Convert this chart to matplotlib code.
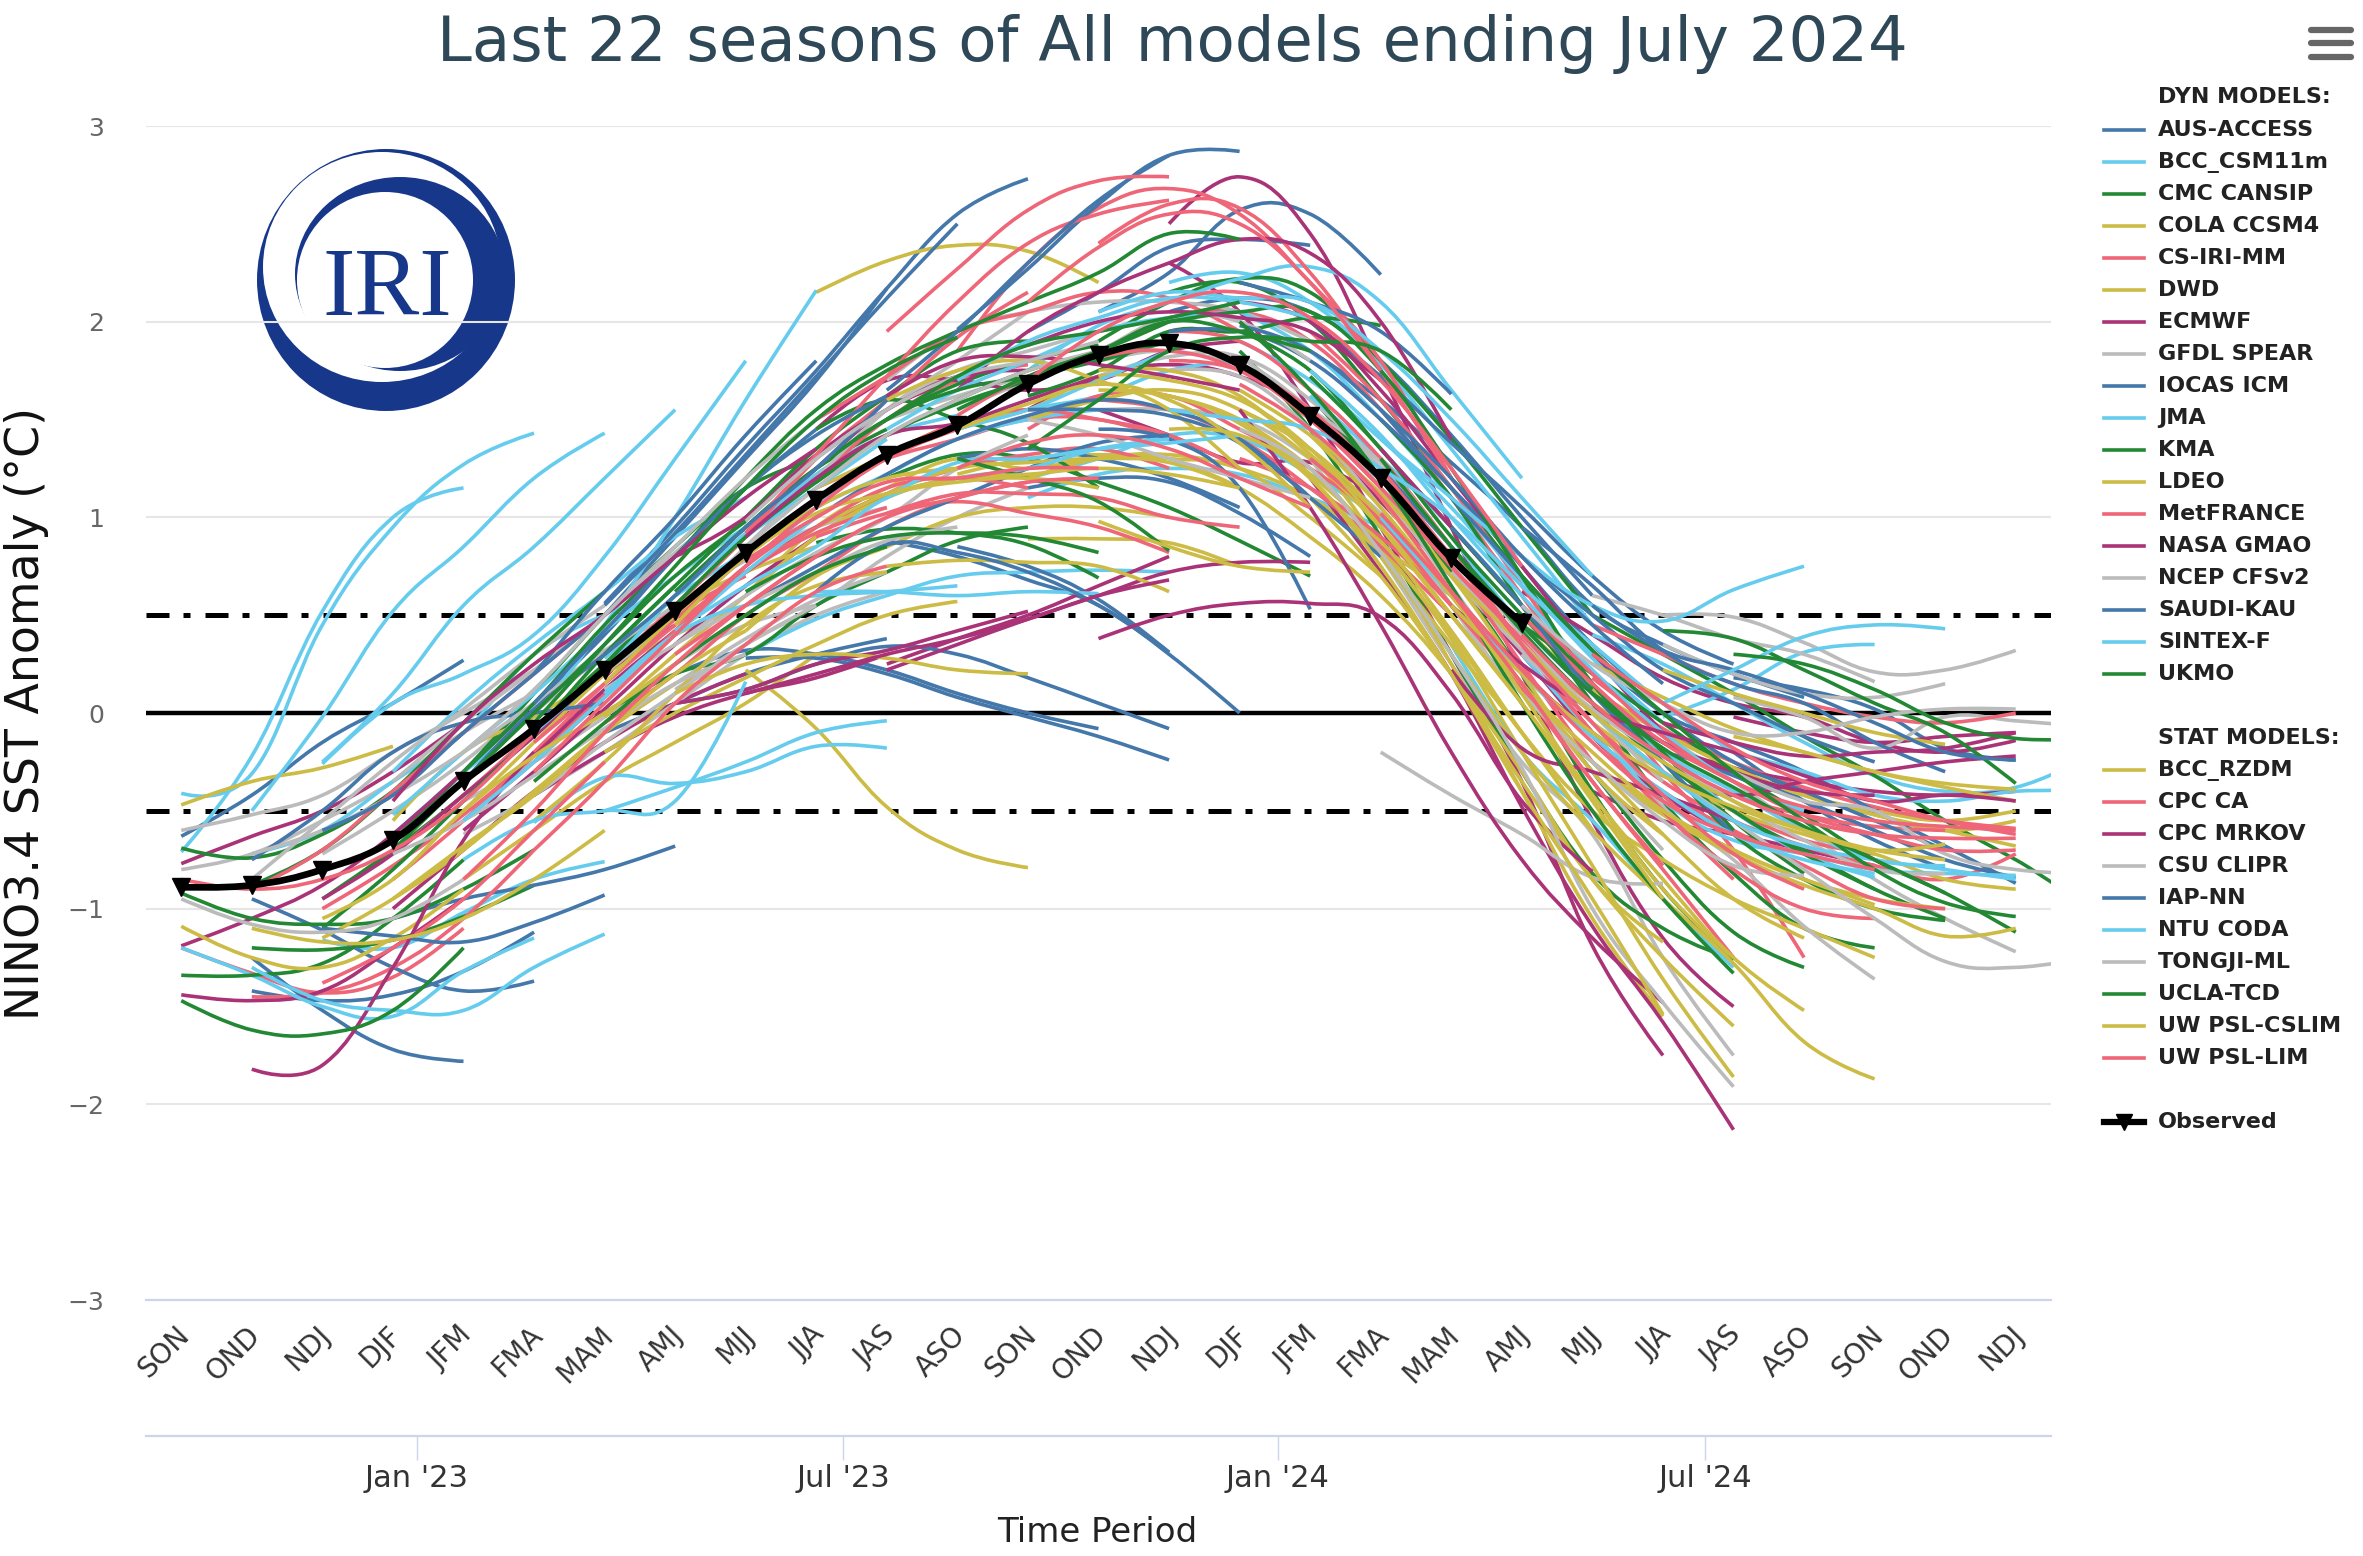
import numpy as np
import matplotlib; matplotlib.use("Agg")
import matplotlib.pyplot as plt
from matplotlib.patches import Ellipse, PathPatch
from matplotlib.path import Path
from matplotlib.transforms import ScaledTranslation

SEASONS=["SON","OND","NDJ","DJF","JFM","FMA","MAM","AMJ","MJJ","JJA","JAS","ASO","SON","OND",
         "NDJ","DJF","JFM","FMA","MAM","AMJ","MJJ","JJA","JAS","ASO","SON","OND","NDJ"]
MONTH_POS=[3.34,9.38,15.54,21.6]
MONTH_LBL=["Jan '23","Jul '23","Jan '24","Jul '24"]
OBS=[-.89,-.88,-.80,-.65,-.35,-.08,.22,.52,.82,1.09,1.32,1.47,1.68,1.83,1.89,1.78,1.52,1.20,.79,.46]

# (first season index, forecast values), one list per colour
BLUE=[(0,[-.63,-.42,-.15,.05,.27]),(1,[-.95,-1.11,-1.3,-1.42,-1.37]),(1,[-1.25,-1.52,-1.72,-1.78]),
 (2,[-1.1,-1.14,-1.17,-1.07,-.93]),(1,[-1.42,-1.47,-1.44,-1.32,-1.12]),(3,[-1.05,-.95,-.88,-.8,-.68]),
 (1,[-.75,-.5,-.2,-.05,.0,.05]),(4,[-.35,.02,.3,.6,.95,1.25,1.6]),(6,[.56,.95,1.36,1.75,2.17,2.55,2.73]),
 (6,[.5,.9,1.3,1.7,2.17]),(6,[.55,.92,1.32,1.72,2.12,2.5]),(5,[.2,.62,1.0,1.42,1.8]),
 (7,[.2,.32,.3,.22,.1,.0,-.08]),(8,[.28,.28,.2,.08,-.02,-.12,-.24]),(7,[.05,.12,.25,.34,.3,.18,.05,-.08]),
 (9,[.62,.86,.82,.72,.55,.31]),(10,[.88,.8,.68,.55,.3,0.]),(11,[.85,.75,.58,.31]),
 (11,[1.96,2.27,2.6,2.85,2.87]),(10,[1.65,1.95,2.3,2.62,2.85]),(13,[2.05,2.25,2.57,2.55,2.24]),
 (12,[1.95,2.15,2.38,2.42,2.39]),(15,[2.2,2.1,1.95,1.63]),(13,[1.45,1.4,1.15,.53]),
 (12,[1.15,1.2,1.18,1.02,.8]),(11,[1.3,1.35,1.3,1.2,1.05]),(14,[1.95,1.95,1.8,1.5,1.15,.75]),
 (15,[1.98,1.85,1.55,1.2,.8,.45,.15]),(16,[1.85,1.6,1.28,.95,.55,.35,.2,.08]),
 (17,[1.55,1.15,.8,.5,.22,.05,-.12,-.25]),(18,[1.1,.7,.32,.0,-.25,-.4,-.55,-.7]),(18,[.95,.55,.1,-.25,-.62]),
 (19,[.75,.35,.05,-.2,-.45,-.65,-.8]),(20,[.3,.0,-.15,-.3,-.5,-.68,-.87]),(19,[.95,.65,.32,.15,.05,-.15,-.3]),
 (20,[.55,.32,.22,.1,-.05,-.2,-.24]),(22,[.18,.12,.02,-.18,-.24]),(3,[-.62,-.3,.05,.4,.8,1.15,1.45]),
 (8,[.55,.75,.95,1.1,1.25,1.38,1.42]),(2,[-.6,-.42,-.1,.2,.5]),(6,[-.1,.05,.2,.3,.38]),(21,[-.2,-.3,-.45,-.6,-.75,-.84]),
 (9,[1.0,1.22,1.4,1.52,1.6,1.55,1.4,1.1])]
BLUE+=[(5,[.05,.42,.8,1.15,1.42,1.62]),(14,[2.05,2.12,2.05,1.8,1.42,1.0,.6]),(16,[2.0,1.72,1.38,1.05,.7,.42,.25]),
 (17,[1.25,.85,.45,.1,-.15,-.32,-.45,-.6]),(12,[1.55,1.55,1.52,1.38,1.1,.8])]

CYAN=[(0,[-.71,-.22,.52,1.0,1.15]),(0,[-.41,-.31,.45,.95,1.27,1.43]),(1,[-.5,-.02,.52,.85,1.2,1.43]),
 (2,[-.25,.1,.55,.85,1.2,1.55]),(2,[-.26,.05,.2,.4,.8,1.3,1.8]),(4,[-.3,.0,.45,1.0,1.6,2.16]),
 (0,[-1.2,-1.34,-1.5,-1.55,-1.32,-1.15]),(1,[-1.3,-1.47,-1.52,-1.52,-1.3,-1.13]),(2,[-1.16,-1.2,-1.02,-.85,-.76]),
 (5,[-.56,-.33,-.36,-.3,-.17,-.18]),(4,[-.75,-.55,-.5,-.45,.16]),(6,[-.5,-.38,-.25,-.1,-.04]),
 (1,[-.72,-.6,-.35,-.1,.3,.5]),(3,[-.52,-.2,.1,.42,.7,.95]),(5,[-.1,.22,.6,.9,1.15,1.4]),
 (6,[.1,.4,.55,.6,.62,.65]),(8,[.3,.48,.6,.7,.72,.73,.72]),(9,[.62,.62,.6,.62,.61]),
 (8,[.75,1.05,1.32,1.45,1.55,1.7,1.85]),(10,[1.1,1.28,1.3,1.35,1.38,1.42]),(11,[1.45,1.55,1.62,1.75,1.8]),
 (12,[1.75,1.98,2.1,2.22,2.28,2.1,1.65,1.2]),(13,[2.05,2.15,2.12,2.1,1.85,1.5,1.1,.7]),
 (14,[1.55,1.5,1.45,1.25,1.0,.65,.3]),(15,[1.9,1.7,1.4,1.05,.65,.35,.05,-.2]),(16,[1.62,1.3,.95,.55,.1,-.2,-.45]),
 (17,[1.4,1.1,.8,.55,.47,.63,.75]),(21,[.05,.22,.39,.45,.43]),(21,[-.02,.12,.31,.35]),
 (18,[.9,.45,.1,-.2,-.4,-.6,-.75,-.78]),(19,[.3,-.1,-.45,-.65,-.72,-.8,-.82,-.83]),(20,[.0,-.3,-.55,-.68,-.75,-.8,-.85]),
 (20,[.4,.25,.05,-.15,-.32,-.4,-.38,-.23]),(22,[-.2,-.3,-.42,-.45,-.4,-.4]),(18,[.35,-.2,-.55,-.95,-1.3]),
 (7,[.42,.65,.85,1.1,1.2,1.25,1.35,1.4]),(12,[1.2,1.3,1.42,1.4,1.22,1.0]),(3,[-.3,.05,.35,.62,.9,1.1]),(19,[.55,.15,-.2,-.5,-.72,-.84])]
CYAN+=[(4,[-.55,-.25,.08,.4,.72,1.0]),(6,[.28,.6,.92,1.22,1.42,1.52]),(7,[.6,.82,1.05,1.22,1.4,1.5,1.55]),
 (10,[1.45,1.65,1.8,1.95,2.02,2.05]),(11,[1.7,1.9,2.02,2.12,2.1,2.02]),(14,[2.2,2.25,2.1,1.78,1.35,.9,.45]),
 (15,[2.05,1.85,1.5,1.1,.68,.28,-.05]),(16,[1.75,1.42,1.0,.6,.22,-.1,-.35,-.5]),(17,[1.0,.6,.2,-.12,-.4,-.62,-.75,-.82]),
 (12,[1.1,1.22,1.25,1.22,1.1,.95])]

GREEN=[(0,[-.69,-.74,-.62,-.4,-.1]),(0,[-.92,-1.05,-1.08,-1.05,-.9,-.7]),(0,[-1.34,-1.34,-1.28,-1.05,-.75]),
 (0,[-1.47,-1.62,-1.64,-1.52,-1.2]),(1,[-1.2,-1.21,-1.16,-1.04,-.88]),(2,[-1.1,-.8,-.45,-.1,.3,.65]),
 (4,[-.3,.05,.45,.8,1.2,1.55,1.78,1.95]),(5,[-.05,.35,.75,1.15,1.5,1.75,1.92]),(3,[-.65,-.3,.1,.5,.85,1.15,1.3]),
 (6,[.3,.65,1.0,1.35,1.62,1.85,1.9]),(7,[.55,.9,1.18,1.42,1.6,1.75,1.85,2.0]),(5,[-.35,-.05,.25,.5,.72,.85]),
 (2,[-.95,-.7,-.42,-.1,.25,.5]),(9,[.87,.94,.92,.86,.69]),(8,[.62,.8,.9,.92,.9,.82]),(11,[1.3,1.2,1.08,.83]),
 (10,[1.2,1.32,1.3,1.18,1.05,.88,.7]),(12,[1.62,1.75,1.95,1.95,2.02,1.98]),(11,[1.95,2.1,2.25,2.45,2.42]),
 (12,[1.35,1.6,1.85,1.92,1.9,1.85,1.55]),(13,[1.9,2.1,2.22,2.15,1.8,1.4,.95,.5]),(15,[1.95,1.75,1.35,.95,.55,.2]),
 (14,[2.0,2.05,2.05,1.75,1.25,.7,.15,-.2,-.6]),(15,[2.0,1.65,1.2,.65,.05,-.5,-.95,-1.33]),
 (16,[1.62,1.2,.72,.2,-.4,-.9,-1.26]),(17,[1.5,1.1,.55,.05,-.45,-.82,-1.1,-1.2]),
 (18,[.95,.55,.15,-.25,-.62,-.85,-1.0,-1.06]),(19,[.7,.32,.0,-.3,-.55,-.8,-.97,-1.04]),
 (20,[.5,.3,.1,-.12,-.32,-.55,-.75,-.95,-.97]),(19,[.45,.2,-.05,-.3,-.52,-.75,-.92,-1.12]),
 (21,[.42,.38,.22,.05,-.1,-.36]),(22,[.3,.25,.12,-.05,-.13,-.13]),(20,[.1,-.2,-.5,-.7,-.9,-1.05]),(19,[.15,-.3,-.75,-1.12,-1.3]),
 (8,[.95,1.25,1.5,1.65,1.72,1.8,1.9]),(10,[1.5,1.72,1.88,1.95,2.02,2.1]),(6,[.0,.2,.3,.55,.72,.88,.95]),(9,[1.45,1.6,1.5,1.38,1.15])]
GREEN+=[(1,[-.88,-.7,-.4,-.05,.3,.62]),(3,[-.7,-.35,.0,.35,.7,.98]),(5,[-.12,.25,.6,.95,1.25,1.45]),
 (7,[.62,.95,1.25,1.5,1.68,1.8,1.88]),(9,[1.18,1.42,1.58,1.7,1.82,1.9]),(11,[1.55,1.72,1.85,2.0,1.95,1.85]),
 (14,[2.15,2.2,2.0,1.6,1.15,.7,.3]),(16,[1.72,1.35,.9,.5,.12,-.2,-.55,-.82]),(17,[1.3,.85,.42,.05,-.25,-.5,-.72,-.9]),
 (18,[.85,.45,.1,-.18,-.38,-.58,-.75,-.92]),(15,[1.85,1.45,.9,.3,-.3,-.82,-1.1,-1.26])]

GOLD=[(8,[.22,-.08,-.48,-.7,-.79]),(0,[-.47,-.35,-.28,-.17]),(0,[-1.09,-1.25,-1.3,-1.15,-.9]),
 (1,[-1.1,-1.17,-1.16,-1.05,-.85,-.6]),(9,[2.15,2.31,2.39,2.36,2.2]),(12,[.89,.89,.87,.75]),
 (10,[.75,.78,.77,.75,.62]),(13,[.98,.85,.75,.72]),(3,[-.55,-.2,-.02,.2,.4,.55]),(6,[-.2,.0,.18,.35,.5,.57]),
 (7,[.1,.25,.3,.28,.22,.2]),(2,[-1.05,-.85,-.5,-.22,.0,.25]),(4,[-.85,-.6,-.35,-.15,.05,.3]),(5,[-.55,-.25,.1,.45,.65,.72]),
 (6,[.15,.5,.8,1.05,1.2,1.25]),(7,[.45,.8,1.02,1.12,1.18,1.2,1.15]),(8,[.6,.95,1.15,1.3,1.25,1.32]),
 (9,[1.15,1.32,1.48,1.55,1.72,1.7]),(10,[1.6,1.75,1.8,1.7,1.55,1.25]),(11,[1.45,1.58,1.68,1.6,1.38,1.05]),
 (12,[1.2,1.3,1.32,1.25,1.1,.85,.6]),(13,[1.75,1.75,1.62,1.32,.95,.5,.05]),(14,[1.62,1.5,1.22,.88,.42,-.1,-.6]),
 (14,[1.45,1.42,1.2,.75,.2,-.4,-.95,-1.54]),(15,[1.62,1.32,.85,.25,-.4,-1.05,-1.55]),
 (15,[1.5,1.25,.85,.38,-.2,-.78,-1.36,-1.86]),(16,[1.2,.8,.3,-.2,-.6,-.95,-1.28,-1.68,-1.87]),
 (17,[1.1,.62,.1,-.42,-.85,-1.25,-1.52]),(14,[1.3,1.15,.9,.6,.2,-.3,-.85,-1.17]),
 (17,[.85,.4,-.1,-.5,-.75,-.95,-1.1,-1.25]),(18,[.6,.15,-.25,-.52,-.72,-.88,-1.0,-1.14,-1.1]),
 (18,[.7,.35,.0,-.25,-.45,-.6,-.7,-.67]),(19,[.45,.12,-.1,-.28,-.42,-.52,-.6,-.55]),(20,[.25,.08,-.08,-.2,-.3,-.38,-.45]),
 (21,[.22,.1,.0,-.1,-.16]),(22,[-.12,-.2,-.3,-.36,-.39]),(19,[.1,-.25,-.5,-.7,-.85,-.95,-1.0]),
 (20,[-.05,-.3,-.5,-.62,-.72,-.85,-.9]),(15,[1.65,1.42,1.12,.7,.2,-.3,-.62]),(16,[1.42,1.05,.6,.15,-.2,-.5,-.7]),
 (8,[.42,.7,.85,1.0,1.05,1.05,1.0]),(4,[-.5,-.15,.2,.52,.72,.85])]
GOLD+=[(2,[-1.15,-.95,-.7,-.4,-.1,.15]),(3,[-.95,-.68,-.42,-.1,.2,.42]),(5,[-.25,.1,.42,.72,.95,1.1]),
 (6,[-.02,.3,.6,.9,1.1,1.2,1.2]),(9,[.95,1.12,1.25,1.28,1.3,1.28,1.15]),(10,[1.12,1.2,1.22,1.25,1.22,1.15]),
 (11,[1.22,1.3,1.32,1.3,1.25,1.0,.7]),(12,[1.5,1.6,1.65,1.55,1.3,.95,.55,.15]),(13,[1.65,1.62,1.48,1.2,.8,.35,-.1,-.6]),
 (14,[1.7,1.6,1.35,.95,.5,.05,-.45,-.95]),(15,[1.55,1.35,1.0,.55,.05,-.42,-.9,-1.25]),(16,[1.32,1.0,.6,.15,-.25,-.62,-.95,-1.15]),
 (17,[.95,.5,.1,-.25,-.5,-.7,-.85,-.98]),(18,[.55,.2,-.1,-.32,-.48,-.6,-.7,-.75]),(19,[.35,.05,-.15,-.3,-.42,-.5,-.55,-.5]),
 (20,[.12,-.1,-.28,-.42,-.52,-.6,-.68]),(16,[1.1,.7,.2,-.35,-.85,-1.25,-1.6])]

PINK=[(0,[-1.2,-1.33,-1.43,-1.35,-1.1]),(1,[-1.45,-1.43,-1.3,-1.05,-.7]),(2,[-1.38,-1.2,-.95,-.6,-.25]),
 (0,[-.85,-.9,-.85,-.7,-.45,-.1]),(2,[-1.0,-.78,-.52,-.22,.1,.4]),(3,[-.85,-.55,-.2,.15,.48,.8]),
 (4,[-.55,-.25,.08,.42,.75,1.0]),(5,[-.3,.05,.4,.75,1.05,1.3,1.45]),(6,[.22,.55,.9,1.2,1.5,1.7,1.78]),
 (7,[.55,.9,1.3,1.6,1.92,2.15]),(8,[.92,1.32,1.72,2.1,2.4,2.55,2.62]),(10,[1.95,2.27,2.57,2.72,2.74]),
 (11,[1.85,2.3,2.58,2.68,2.55,2.2,1.8,1.2]),(13,[2.4,2.6,2.58,2.25,1.75,1.2]),(12,[2.1,2.38,2.55,2.5,2.2,1.75]),
 (7,[.3,.55,.8,1.0,1.1,1.18,1.2]),(8,[.6,.9,1.12,1.25,1.32,1.35,1.25]),(9,[.9,1.02,1.08,1.02,.95,.82]),
 (10,[1.02,1.12,1.12,1.1,1.0,.95]),(11,[1.25,1.38,1.42,1.35,1.2,1.05]),(12,[1.45,1.62,1.62,1.45,1.25,1.0]),
 (13,[1.6,1.55,1.4,1.15,.85,.5]),(14,[1.8,1.75,1.5,1.15,.75,.25,-.25]),(15,[1.68,1.45,1.1,.62,.15,-.35,-.78]),
 (16,[1.95,1.6,1.15,.65,.15,-.3,-.7,-1.25]),(16,[1.3,.98,.55,.12,-.35,-.8,-1.25]),(17,[1.25,.8,.35,-.1,-.5,-.8,-1.0,-1.05]),
 (17,[1.02,.62,.22,-.15,-.45,-.62,-.72,-.8]),(18,[.85,.35,-.05,-.35,-.55,-.68,-.78,-.85,-.72]),
 (18,[.62,.22,-.12,-.4,-.6,-.78,-.95,-1.0]),(19,[.55,.2,-.12,-.35,-.48,-.55,-.58,-.6]),(19,[.4,.05,-.22,-.42,-.55,-.62,-.64,-.64]),
 (20,[.18,-.08,-.25,-.38,-.48,-.55,-.59]),(20,[.45,.3,.15,.05,-.02,-.05,.0]),(1,[-.9,-.7,-.4,-.1,.2,.5]),
 (4,[-.85,-.5,-.1,.25,.55,.8]),(6,[-.05,.2,.5,.72,.95,1.1,1.18]),(9,[1.5,1.72,1.95,2.05,2.15,2.12,1.95]),(15,[1.3,1.15,.9,.55,.15]),
 (5,[-.7,-.35,.05,.35,.62,.75])]
PINK+=[(3,[-.72,-.42,-.1,.2,.5,.7]),(5,[-.15,.15,.45,.72,.92,1.05]),(7,[.4,.72,.95,1.15,1.2,1.15]),
 (8,[.78,1.0,1.18,1.2,1.25,1.25]),(9,[1.15,1.3,1.4,1.5,1.5,1.4]),(10,[1.32,1.48,1.55,1.5,1.42,1.25]),
 (11,[1.52,1.72,1.82,1.85,1.75,1.5,1.15]),(12,[1.7,1.95,2.1,2.15,2.02,1.7,1.25,.75]),(13,[1.85,2.0,2.05,1.9,1.55,1.1,.6,.1]),
 (14,[1.95,1.9,1.65,1.3,.85,.35,-.1,-.5]),(15,[1.78,1.55,1.2,.8,.35,-.1,-.5,-.85]),(16,[1.5,1.2,.8,.35,-.05,-.42,-.72,-.9]),
 (17,[1.15,.75,.35,0.,-.3,-.5,-.65,-.72]),(18,[.75,.38,.05,-.22,-.42,-.52,-.58,-.6]),(19,[.5,.15,-.15,-.35,-.52,-.62,-.7,-.7]),
 (20,[.3,.05,-.18,-.35,-.45,-.55,-.62])]

PURPLE=[(14,[2.5,2.74,2.45,1.75,.95,.2,-.55,-1.15,-1.5]),(10,[.25,.38,.5,.65,.8]),(10,[.22,.35,.48,.6,.72,.77,.77]),
 (13,[.38,.5,.56,.56,.49,.1,-.45,-.81]),(0,[-.77,-.63,-.5,-.3,-.05]),(0,[-1.19,-1.05,-.88,-.62,-.3]),
 (0,[-1.44,-1.47,-1.42,-1.2,-.95]),(1,[-1.82,-1.8,-1.3,-.65,-.2]),(3,[-1.0,-.7,-.4,-.15,.05,.2]),(5,[-.42,-.2,-.02,.1,.18,.3]),
 (7,[.05,.12,.25,.32,.42,.52]),(8,[.1,.2,.3,.38,.48,.6,.68]),(14,[2.3,2.05,1.55,.95,.3,-.35,-1.19,-1.75]),(16,[1.2,.72,.2,-.48,-1.09,-1.58,-2.13]),
 (15,[1.55,1.05,.45,-.2,-.75,-1.15,-1.48]),(3,[-.45,-.05,.25,.5,.8,1.1,1.35]),(6,[.18,.55,.9,1.25,1.55,1.7]),
 (9,[1.45,1.7,1.7,1.65,1.7,1.85,1.9]),(11,[1.65,1.95,2.15,2.3,2.42,2.35,2.0,1.4]),(12,[1.88,2.0,2.05,2.02,1.95,1.7]),
 (13,[1.55,1.42,1.28,1.28,1.1]),(15,[2.1,2.0,1.65,1.2,.75,.3,-.1]),(17,[1.35,.95,.55,.15,-.15,-.3,-.4,-.42]),
 (18,[.55,.25,.02,-.1,-.2,-.32,-.45,-.42,-.45]),(19,[.62,.4,.18,.05,-.02,-.15,-.2,-.14]),(20,[.1,-.15,-.28,-.35,-.4,-.42,-.4]),
 (21,[-.05,-.15,-.22,-.2,-.18,-.1]),(18,[.22,-.18,-.3,-.42,-.55]),(20,[-.4,-.55,-.62,-.7,-.78]),(4,[-.6,-.3,.02,.35,.65,.9]),
 (7,[.8,1.0,1.32,1.55,1.72,1.75]),(10,[1.62,1.8,1.82,1.78,1.72,1.65]),(22,[-.02,-.1,-.15,-.12,-.1])]
PURPLE+=[(2,[-.95,-.72,-.42,-.12,.2,.45]),(5,[-.22,.12,.42,.72,.95,1.12]),(8,[.9,1.2,1.42,1.48,1.6,1.72]),
 (12,[1.55,1.72,1.78,1.72,1.55,1.25,.85]),(16,[1.45,1.08,.7,.3,-.12,-.42,-.62]),(19,[.2,-.1,-.32,-.42,-.35,-.3,-.25,-.22])]

GREY=[(0,[-.8,-.72,-.55,-.35,-.1,.1]),(0,[-.6,-.52,-.42,-.2,.0,.22]),(1,[-.85,-.55,-.25,.02,.3,.55]),(0,[-.95,-1.08,-1.12,-1.05,-.85]),
 (2,[-.72,-.5,-.25,.05,.32,.5]),(3,[-.35,-.05,.22,.5,.82,1.1]),(4,[-.62,-.42,-.15,.1,.35,.55]),(4,[-.2,.12,.5,.85,1.2,1.5]),
 (5,[-.42,-.2,.05,.3,.5,.62]),(6,[.2,.5,.85,1.2,1.55,1.8,2.05]),(7,[.35,.6,.82,1.0,1.25,1.42]),(8,[.85,1.15,1.42,1.6,1.75,1.85]),
 (9,[1.3,1.55,1.75,1.85,1.95,2.02,2.1]),(10,[1.7,1.95,2.05,2.1,2.1,2.05,1.9]),(11,[1.55,1.7,1.85,2.02,2.0,1.8]),
 (12,[1.5,1.42,1.3,1.2,1.1]),(13,[1.55,1.55,1.5,1.3,1.02,.62]),(14,[1.75,1.72,1.45,1.05,.55,.05]),(15,[1.82,1.55,1.15,.65,.15,-.3,-.7]),
 (15,[1.45,1.25,.82,.3,-.28,-1.0,-1.48,-1.91]),(16,[1.3,.8,.25,-.25,-.62,-1.25,-1.75]),(17,[-.2,-.42,-.62,-.84,-.87]),
 (17,[1.12,.7,.32,-.05,-.48,-.75,-1.09,-1.36]),(18,[.5,.1,-.25,-.55,-.78,-.83]),(21,[.5,.49,.36,.21,.22,.32]),
 (20,[.6,.5,.38,.3,.16]),(21,[.35,.2,.1,.08,.15]),(19,[.3,.0,-.3,-.55,-.8,-1.05,-1.27,-1.3,-1.25]),(20,[.2,-.1,-.35,-.6,-.85,-1.05,-1.22]),
 (22,[.08,-.02,-.18,-.02,-.04,-.07]),(22,[-.3,-.45,-.5,-.72,-.8,-.82]),(19,[.55,.25,.05,-.1,-.1,-.02,.02,.02]),(7,[.12,.35,.55,.8,1.0,1.15]),(5,[.0,.3,.55,.78,.95,1.05])]
GREY+=[(1,[-.72,-.6,-.42,-.2,.05,.3]),(3,[-.72,-.55,-.32,-.08,.15,.3]),(4,[-.45,-.25,-.02,.25,.45,.55]),
 (5,[-.32,-.08,.15,.38,.58,.72]),(6,[.12,.35,.55,.72,.88,.95]),(8,[.98,1.3,1.55,1.72,1.8,1.9]),
 (10,[1.5,1.62,1.72,1.8,1.85,1.78]),(13,[1.72,1.82,1.82,1.6,1.25,.85,.4]),(16,[1.55,1.28,.85,.4,.0,-.35]),
 (18,[.72,.35,.02,-.22,-.45,-.65,-.8,-.82])]

STYLE=[("blue","#4477AA",BLUE),("purple","#AA3377",PURPLE),("grey","#BBBBBB",GREY),("cyan","#66CCEE",CYAN),
       ("green","#228833",GREEN),("gold","#CCBB44",GOLD),("pink","#EE6677",PINK)]
COL={k:c for k,c,_ in STYLE}
DYN=[("AUS-ACCESS","blue"),("BCC_CSM11m","cyan"),("CMC CANSIP","green"),("COLA CCSM4","gold"),("CS-IRI-MM","pink"),
     ("DWD","gold"),("ECMWF","purple"),("GFDL SPEAR","grey"),("IOCAS ICM","blue"),("JMA","cyan"),("KMA","green"),
     ("LDEO","gold"),("MetFRANCE","pink"),("NASA GMAO","purple"),("NCEP CFSv2","grey"),("SAUDI-KAU","blue"),
     ("SINTEX-F","cyan"),("UKMO","green")]
STAT=[("BCC_RZDM","gold"),("CPC CA","pink"),("CPC MRKOV","purple"),("CSU CLIPR","grey"),("IAP-NN","blue"),
      ("NTU CODA","cyan"),("TONGJI-ML","grey"),("UCLA-TCD","green"),("UW PSL-CSLIM","gold"),("UW PSL-LIM","pink")]

W,H=2363,1556
LOGO="#17388A"
def spline_path(xs,ys,smooth=1.5,den=2.5):
    # same control points as a Highcharts spline
    xs=np.asarray(xs,float); ys=np.asarray(ys,float); n=len(xs)
    verts=[(xs[0],ys[0])]; codes=[Path.MOVETO]
    lc=np.zeros((n,2)); rc=np.zeros((n,2))
    lc[0]=rc[0]=xs[0],ys[0]; lc[-1]=rc[-1]=xs[-1],ys[-1]
    for i in range(1,n-1):
        lx,ly=(smooth*xs[i]+xs[i-1])/den,(smooth*ys[i]+ys[i-1])/den
        rx,ry=(smooth*xs[i]+xs[i+1])/den,(smooth*ys[i]+ys[i+1])/den
        if rx!=lx:
            c=(ry-ly)*(rx-xs[i])/(rx-lx)+ys[i]-ry
            ly+=c; ry+=c
        lc[i]=lx,ly; rc[i]=rx,ry
    for i in range(1,n):
        verts+=[tuple(rc[i-1]),tuple(lc[i]),(xs[i],ys[i])]; codes+=[Path.CURVE4]*3
    return Path(verts,codes)

fig=plt.figure(figsize=(W/100,H/100),dpi=100,facecolor="white")
# page layer in pixel coordinates: logo, legend, menu icon
bg=fig.add_axes([0,0,1,1],zorder=-1); bg.set_xlim(0,W); bg.set_ylim(H,0); bg.axis("off")
for (cx,cy,rx,ry,c) in [(386,280,129,131,LOGO),(382,267,119,115,"white"),(400,274,105,97,LOGO),(385,280,88,88,"white")]:
    bg.add_patch(Ellipse((cx,cy),2*rx,2*ry,fc=c,ec="none"))
bg.text(387,281,"IRI",family="Liberation Serif",fontsize=70,color=LOGO,ha="center",va="center_baseline")
for y in (30,43,57):
    bg.plot([2311,2351],[y,y],color="#666666",lw=4.5,solid_capstyle="round")
def row(y,name,key=None):
    if key: bg.plot([2104,2144],[y,y],color=COL[key],lw=2.6)
    bg.text(2158,y,name,fontsize=16,fontweight="bold",color="#222222",va="center")
row(97,"DYN MODELS:")
for i,(n,k) in enumerate(DYN): row(130+32*i,n,k)
row(738,"STAT MODELS:")
for i,(n,k) in enumerate(STAT): row(770+32*i,n,k)
bg.plot([2104,2144],[1122,1122],color="k",lw=4.5)
bg.plot([2124],[1122],marker="v",ms=12,color="k")
bg.text(2158,1122,"Observed",fontsize=16,fontweight="bold",color="#222222",va="center")
bg.text(1172,44,"Last 22 seasons of All models ending July 2024",fontsize=45,color="#2F4858",ha="center",va="center")
bg.text(27,713,"NINO3.4 SST Anomaly (\u00b0C)",fontsize=33,color="#111111",rotation=90,ha="center",va="center")

ax=fig.add_axes([146/W,1-1300/H,(2051-146)/W,(1300-126)/H])
ax.patch.set_visible(False)
ax.set_xlim(-.5,26.5); ax.set_ylim(-3,3)
for s in ("top","left","right"): ax.spines[s].set_visible(False)
ax.spines["bottom"].set_color("#CCD6EB"); ax.spines["bottom"].set_linewidth(1.6)
ax.set_yticks(range(-3,4)); ax.set_yticklabels(["\u22123","\u22122","\u22121","0","1","2","3"])
ax.tick_params(axis="y",length=0,pad=30,labelsize=18,labelcolor="#666666")
ax.grid(axis="y",color="#E6E6E6",lw=1.5,zorder=1); ax.set_axisbelow(True)
ax.set_xticks(range(len(SEASONS))); ax.set_xticklabels(SEASONS,rotation=45,ha="right",rotation_mode="anchor")
ax.tick_params(axis="x",length=0,pad=15,labelsize=20,labelcolor="#333333")
shift=ScaledTranslation(-6/100,0,fig.dpi_scale_trans)
for lb in ax.get_xticklabels(): lb.set_transform(lb.get_transform()+shift)
ax.axhline(0,color="k",lw=3.2,zorder=2)
for v in (.5,-.5):
    ax.axhline(v,color="k",lw=3.6,ls=(0,(4.6,2.8,1.4,3)),zorder=2)

for rank,(key,c,lines) in enumerate(STYLE):
    for i,(s,vals) in enumerate(lines):
        xs=np.arange(s,s+len(vals))
        ax.add_patch(PathPatch(spline_path(xs,vals),fc="none",ec=c,lw=2.6,capstyle="butt",zorder=3+i%4+rank*.1))
xo=np.arange(len(OBS))
ax.add_patch(PathPatch(spline_path(xo,OBS),fc="none",ec="k",lw=4.8,zorder=9))
ax.plot(xo,OBS,ls="none",marker="v",ms=12.5,color="k",zorder=10,clip_on=False)

sec=ax.secondary_xaxis((1300-1436)/(1300-126))
sec.set_xticks(MONTH_POS); sec.set_xticklabels(MONTH_LBL)
sec.spines["bottom"].set_color("#CCD6EB"); sec.spines["bottom"].set_linewidth(1.6)
sec.tick_params(axis="x",length=17,width=1,color="#CCD6EB",pad=3,labelsize=22,labelcolor="#333333")
bg.text(1097,1533,"Time Period",fontsize=24.5,color="#222222",ha="center",va="center")

fig.savefig("out.png",dpi=100,facecolor="white")
